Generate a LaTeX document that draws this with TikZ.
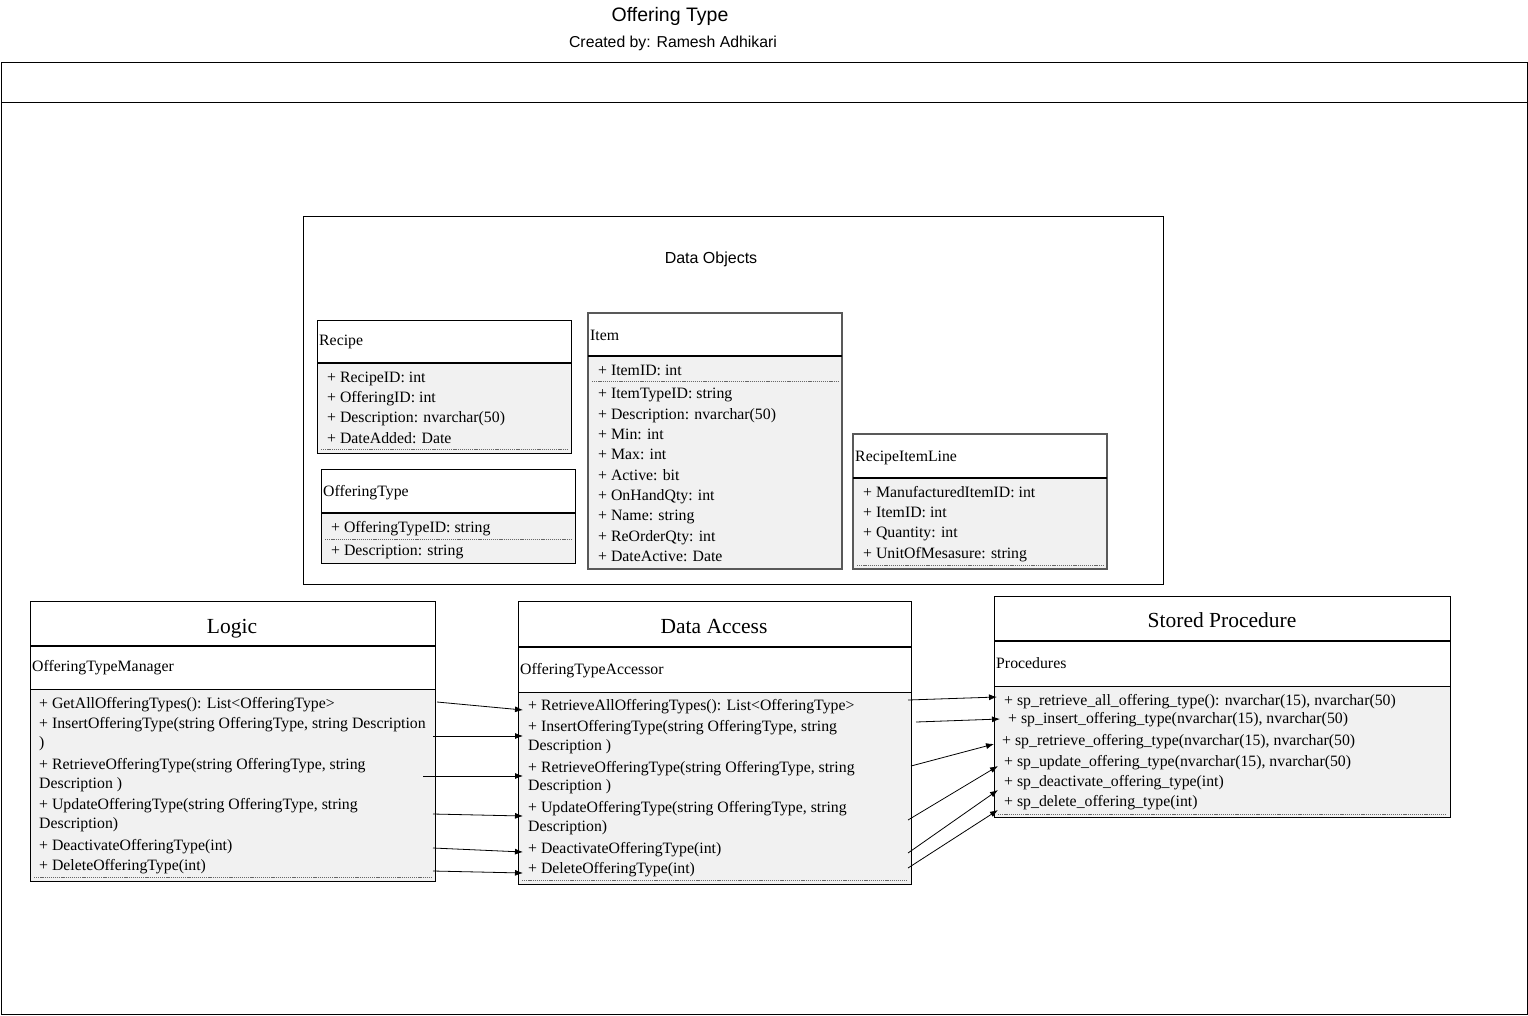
\documentclass[tikz,border=0pt]{standalone}
\usepackage{fontspec}
\setmainfont{Liberation Serif}
\newfontfamily\sansf{Liberation Sans}
\usetikzlibrary{arrows.meta}
\definecolor{bodygray}{RGB}{241,241,241}
\begin{document}
\begin{tikzpicture}[x=1pt,y=-1pt,
  t/.style={anchor=base west,inner sep=0pt,font=\fontsize{15.8}{18}\selectfont},
  hd/.style={anchor=base,inner sep=0pt,font=\fontsize{21.5}{24}\selectfont},
  box/.style={draw=black,line width=0.9pt},
  gbox/.style={draw=black!65,line width=1.6pt},
  div/.style={line width=1.4pt},
  div2/.style={line width=0.9pt},
  sep/.style={draw=black!60,dash pattern=on 1.2pt off 0.9pt,line width=0.7pt},
  arr/.style={-{Latex[length=8pt,width=6pt]},line width=0.8pt}]
\useasboundingbox (0,0) rectangle (1528,1015);
\fill[white] (0,0) rectangle (1528,1015);

% title
\node[font=\sansf\fontsize{19.5}{22}\selectfont,anchor=base,inner sep=0pt] (title) at (670,21) {Offering Type};
\node[font=\sansf\fontsize{15.8}{18}\selectfont,anchor=base,inner sep=0pt] (author) at (673,47) {Created by: Ramesh Adhikari};

% outer frame
\draw[line width=1pt] (1,62) rectangle (1527,1014);
\draw[line width=1pt] (1,102) -- (1527,102);

% Data Objects container
\draw[box] (303,216) rectangle (1163,584);
\node[font=\sansf\fontsize{16}{18}\selectfont,anchor=base,inner sep=0pt] (dobj) at (711,263) {Data Objects};

% Recipe
\fill[bodygray] (317,363) rectangle (571,453);
\draw[box] (317,320) rectangle (571,453);
\draw[div] (317,363) -- (571,363);
\node[t] (rc) at (319,345) {Recipe};
\node[t] (rc1) at (327,382) {+ RecipeID: int};
\node[t] (rc2) at (327,402) {+ OfferingID: int};
\node[t] (rc3) at (327,422) {+ Description: nvarchar(50)};
\node[t] (rc4) at (327,443) {+ DateAdded: Date};
\draw[sep] (321,449) -- (567,449);

% OfferingType
\fill[bodygray] (321,513) rectangle (575,563);
\draw[box] (321,469) rectangle (575,563);
\draw[div] (321,513) -- (575,513);
\node[t] (ot) at (323,496) {OfferingType};
\node[t] (ot1) at (331,532) {+ OfferingTypeID: string};
\draw[sep] (325,539) -- (571,539);
\node[t] (ot2) at (331,555) {+ Description: string};

% Item
\fill[bodygray] (588,356) rectangle (842,569);
\draw[gbox] (588,313) rectangle (842,569);
\draw[div] (588,356) -- (842,356);
\node[t] (it) at (590,340) {Item};
\node[t] (it1) at (598,375) {+ ItemID: int};
\draw[sep] (592,381) -- (838,381);
\node[t] (it2) at (598,398) {+ ItemTypeID: string};
\node[t] (it3) at (598,419) {+ Description: nvarchar(50)};
\node[t] (it4) at (598,439) {+ Min: int};
\node[t] (it5) at (598,459) {+ Max: int};
\node[t] (it6) at (598,480) {+ Active: bit};
\node[t] (it7) at (598,500) {+ OnHandQty: int};
\node[t] (it8) at (598,520) {+ Name: string};
\node[t] (it9) at (598,541) {+ ReOrderQty: int};
\node[t] (it10) at (598,561) {+ DateActive: Date};

% RecipeItemLine
\fill[bodygray] (853,478) rectangle (1107,569);
\draw[gbox] (853,434) rectangle (1107,569);
\draw[div] (853,478) -- (1107,478);
\node[t] (ril) at (855,461) {RecipeItemLine};
\node[t] (ril1) at (863,497) {+ ManufacturedItemID: int};
\node[t] (ril2) at (863,517) {+ ItemID: int};
\node[t] (ril3) at (863,537) {+ Quantity: int};
\node[t] (ril4) at (863,558) {+ UnitOfMesasure: string};
\draw[sep] (857,565) -- (1103,565);

% Logic
\fill[bodygray] (30,689) rectangle (435,881);
\draw[box] (30,601) rectangle (435,881);
\draw[div] (30,646) -- (435,646);
\draw[div2] (30,689) -- (435,689);
\node[hd] (lg) at (232,633) {Logic};
\node[t] (lgm) at (32,671) {OfferingTypeManager};
\node[t] (lg1) at (39,708) {+ GetAllOfferingTypes(): List<OfferingType>};
\node[t] (lg2) at (39,728) {+ InsertOfferingType(string OfferingType, string Description};
\node[t] (lg2b) at (39,747) {)};
\node[t] (lg3) at (39,769) {+ RetrieveOfferingType(string OfferingType, string};
\node[t] (lg3b) at (39,788) {Description )};
\node[t] (lg4) at (39,809) {+ UpdateOfferingType(string OfferingType, string};
\node[t] (lg4b) at (39,828) {Description)};
\node[t] (lg5) at (39,850) {+ DeactivateOfferingType(int)};
\node[t] (lg6) at (39,870) {+ DeleteOfferingType(int)};
\draw[sep] (34,877) -- (431,877);

% Data Access
\fill[bodygray] (518,692) rectangle (911,884);
\draw[box] (518,601) rectangle (911,884);
\draw[div] (518,647) -- (911,647);
\draw[div2] (518,692) -- (911,692);
\node[hd] (da) at (714,633) {Data Access};
\node[t] (dam) at (520,674) {OfferingTypeAccessor};
\node[t] (da1) at (528,710) {+ RetrieveAllOfferingTypes(): List<OfferingType>};
\node[t] (da2) at (528,731) {+ InsertOfferingType(string OfferingType, string};
\node[t] (da2b) at (528,750) {Description )};
\node[t] (da3) at (528,772) {+ RetrieveOfferingType(string OfferingType, string};
\node[t] (da3b) at (528,790) {Description )};
\node[t] (da4) at (528,812) {+ UpdateOfferingType(string OfferingType, string};
\node[t] (da4b) at (528,831) {Description)};
\node[t] (da5) at (528,853) {+ DeactivateOfferingType(int)};
\node[t] (da6) at (528,873) {+ DeleteOfferingType(int)};
\draw[sep] (522,880) -- (907,880);

% Stored Procedure
\fill[bodygray] (994,686) rectangle (1450,817);
\draw[box] (994,596) rectangle (1450,817);
\draw[div] (994,641) -- (1450,641);
\draw[div2] (994,686) -- (1450,686);
\node[hd] (sp) at (1222,627) {Stored Procedure};
\node[t] (spm) at (996,668) {Procedures};
\node[t] (sp1) at (1004,705) {+ sp\_retrieve\_all\_offering\_type(): nvarchar(15), nvarchar(50)};
\node[t] (sp2) at (1008,723) {+ sp\_insert\_offering\_type(nvarchar(15), nvarchar(50)};
\node[t] (sp3) at (1002,745) {+ sp\_retrieve\_offering\_type(nvarchar(15), nvarchar(50)};
\node[t] (sp4) at (1004,766) {+ sp\_update\_offering\_type(nvarchar(15), nvarchar(50)};
\node[t] (sp5) at (1004,786) {+ sp\_deactivate\_offering\_type(int)};
\node[t] (sp6) at (1004,806) {+ sp\_delete\_offering\_type(int)};
\draw[sep] (998,814) -- (1446,814);

% arrow end points
\coordinate (a1s) at (437,702); \coordinate (a1e) at (523,710);
\coordinate (a2s) at (433,736); \coordinate (a2e) at (523,736);
\coordinate (a3s) at (423,776); \coordinate (a3e) at (523,776);
\coordinate (a4s) at (433,814); \coordinate (a4e) at (523,816);
\coordinate (a5s) at (433,848); \coordinate (a5e) at (523,852);
\coordinate (a6s) at (433,871); \coordinate (a6e) at (523,873);
\coordinate (b1s) at (908,700); \coordinate (b1e) at (997,697);
\coordinate (b2s) at (916,722); \coordinate (b2e) at (1000,719);
\coordinate (b3s) at (911,766); \coordinate (b3e) at (994,744);
\coordinate (b4s) at (908,820); \coordinate (b4e) at (998,766);
\coordinate (b5s) at (908,853); \coordinate (b5e) at (998,790);
\coordinate (b6s) at (908,868); \coordinate (b6e) at (998,810);
\foreach \i in {1,...,6} {
  \draw[arr] (a\i s) -- (a\i e);
  \draw[arr] (b\i s) -- (b\i e);
}
\end{tikzpicture}
\end{document}
